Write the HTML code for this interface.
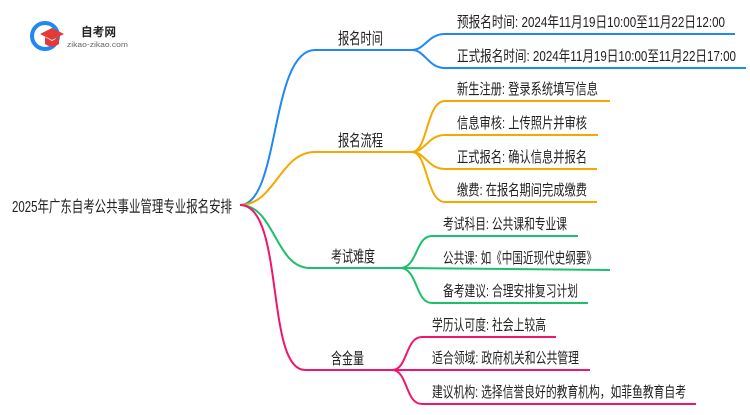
<!DOCTYPE html>
<html><head><meta charset="utf-8"><style>
body{margin:0;background:#fff;}
svg text{font-family:"Liberation Sans","Noto Sans CJK SC",sans-serif;fill:#222;}
</style></head><body>
<svg width="750" height="410" viewBox="0 0 750 410" xmlns="http://www.w3.org/2000/svg">
<g fill="none" stroke-width="2">
<path d="M240 205 C280 205 270 50 315 50 L412 50" stroke="#1e88f5"/>
<path d="M412 50 C425 50 428 34 445 34 L735 34 M412 50 C425 50 428 68 445 68 L746 68" stroke="#1e88f5"/>
<path d="M240 205 C275 205 280 152 315 152 L412 152" stroke="#f5a800"/>
<path d="M412 152 C428 152 426 101 445 101 L610 101 M412 152 C425 152 428 135 445 135 L598 135 M412 152 C425 152 428 169 445 169 L597 169 M412 152 C428 152 426 202 445 202 L597 202" stroke="#f5a800"/>
<path d="M240 205 C275 205 275 268 310 268 L400 268" stroke="#1cbf6a"/>
<path d="M400 268 C418 268 415 236 432 236 L578 236 M400 268 L610 270 M400 268 C418 268 415 303 432 303 L588 303" stroke="#1cbf6a"/>
<path d="M240 205 C285 205 265 370 305 370 L392 370" stroke="#f0166e"/>
<path d="M392 370 C408 370 405 337 422 337 L556 337 M392 370 L590 370 M392 370 C408 370 405 404 422 404 L696 404" stroke="#f0166e"/>
</g>
<circle cx="45" cy="36" r="13" fill="none" stroke="#1e88f5" stroke-width="4"/>
<path d="M40 34 L52 28 L64 34 L52 40 Z" fill="#e53935"/>
<path d="M45 37 L45 44 Q52 49 59 44 L59 37 L52 41 Z" fill="#e53935"/>
<text x="81" y="36" font-size="12" font-weight="bold" textLength="35" lengthAdjust="spacingAndGlyphs">自考网</text>
<text x="67" y="47" font-size="7" style="fill:#666" textLength="61" lengthAdjust="spacingAndGlyphs">zikao-zikao.com</text>
<text x="12" y="212" font-size="16" textLength="220" lengthAdjust="spacingAndGlyphs">2025年广东自考公共事业管理专业报名安排</text>
<g font-size="16">
<text x="338" y="44" textLength="45" lengthAdjust="spacingAndGlyphs">报名时间</text>
<text x="338" y="146" textLength="45" lengthAdjust="spacingAndGlyphs">报名流程</text>
<text x="331" y="262" textLength="44" lengthAdjust="spacingAndGlyphs">考试难度</text>
<text x="331" y="364" textLength="33" lengthAdjust="spacingAndGlyphs">含金量</text>
</g>
<g font-size="15">
<text x="457" y="27" textLength="268" lengthAdjust="spacingAndGlyphs">预报名时间: 2024年11月19日10:00至11月22日12:00</text>
<text x="457" y="61" textLength="279" lengthAdjust="spacingAndGlyphs">正式报名时间: 2024年11月19日10:00至11月22日17:00</text>
<text x="457" y="94" textLength="141" lengthAdjust="spacingAndGlyphs">新生注册: 登录系统填写信息</text>
<text x="457" y="128" textLength="130" lengthAdjust="spacingAndGlyphs">信息审核: 上传照片并审核</text>
<text x="457" y="162" textLength="130" lengthAdjust="spacingAndGlyphs">正式报名: 确认信息并报名</text>
<text x="457" y="195" textLength="130" lengthAdjust="spacingAndGlyphs">缴费: 在报名期间完成缴费</text>
<text x="443" y="229" textLength="124" lengthAdjust="spacingAndGlyphs">考试科目: 公共课和专业课</text>
<text x="443" y="263" textLength="154" lengthAdjust="spacingAndGlyphs">公共课: 如《中国近现代史纲要》</text>
<text x="443" y="296" textLength="135" lengthAdjust="spacingAndGlyphs">备考建议: 合理安排复习计划</text>
<text x="432" y="330" textLength="114" lengthAdjust="spacingAndGlyphs">学历认可度: 社会上较高</text>
<text x="432" y="363" textLength="147" lengthAdjust="spacingAndGlyphs">适合领域: 政府机关和公共管理</text>
<text x="432" y="397" textLength="254" lengthAdjust="spacingAndGlyphs">建议机构: 选择信誉良好的教育机构，如菲鱼教育自考</text>
</g>
</svg>
</body></html>
